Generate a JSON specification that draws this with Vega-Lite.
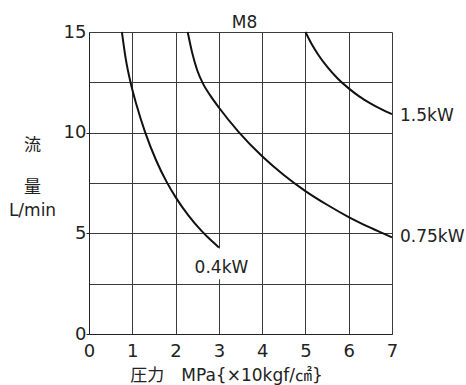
{
  "$schema": "https://vega.github.io/schema/vega-lite/v6.json",
  "width": 303,
  "height": 302,
  "autosize": "none",
  "padding": {"left": 89, "top": 32, "right": 74, "bottom": 51},
  "background": "white",
  "config": {
    "view": {"stroke": null},
    "font": "DejaVu Sans, Noto Sans CJK JP, sans-serif"
  },
  "title": {
    "text": "M8",
    "fontSize": 17,
    "fontWeight": "normal",
    "color": "#222",
    "anchor": "middle",
    "baseline": "bottom",
    "offset": 4,
    "dx": 4,
    "dy": 30
  },
  "resolve": {"axis": {"y": "independent"}},
  "datasets": {
    "curves": [
      {"series": "0.4kW", "p": 0.76, "q": 15},
      {"series": "0.4kW", "p": 0.85, "q": 13.65},
      {"series": "0.4kW", "p": 0.97, "q": 12.4},
      {"series": "0.4kW", "p": 1.1, "q": 11.36},
      {"series": "0.4kW", "p": 1.3, "q": 10.0},
      {"series": "0.4kW", "p": 1.55, "q": 8.63},
      {"series": "0.4kW", "p": 1.8, "q": 7.53},
      {"series": "0.4kW", "p": 2.0, "q": 6.8},
      {"series": "0.4kW", "p": 2.3, "q": 5.88},
      {"series": "0.4kW", "p": 2.6, "q": 5.12},
      {"series": "0.4kW", "p": 2.8, "q": 4.69},
      {"series": "0.4kW", "p": 3.0, "q": 4.3},
      {"series": "0.75kW", "p": 2.28, "q": 15},
      {"series": "0.75kW", "p": 2.38, "q": 14.0},
      {"series": "0.75kW", "p": 2.5, "q": 13.1},
      {"series": "0.75kW", "p": 2.63, "q": 12.45},
      {"series": "0.75kW", "p": 2.8, "q": 11.85},
      {"series": "0.75kW", "p": 3.0, "q": 11.25},
      {"series": "0.75kW", "p": 3.46, "q": 10.03},
      {"series": "0.75kW", "p": 4.0, "q": 8.83},
      {"series": "0.75kW", "p": 4.5, "q": 7.9},
      {"series": "0.75kW", "p": 5.0, "q": 7.1},
      {"series": "0.75kW", "p": 5.5, "q": 6.42},
      {"series": "0.75kW", "p": 6.0, "q": 5.81},
      {"series": "0.75kW", "p": 6.5, "q": 5.28},
      {"series": "0.75kW", "p": 7.0, "q": 4.8},
      {"series": "1.5kW", "p": 5.0, "q": 15},
      {"series": "1.5kW", "p": 5.15, "q": 14.38},
      {"series": "1.5kW", "p": 5.3, "q": 13.86},
      {"series": "1.5kW", "p": 5.5, "q": 13.28},
      {"series": "1.5kW", "p": 5.75, "q": 12.68},
      {"series": "1.5kW", "p": 6.0, "q": 12.2},
      {"series": "1.5kW", "p": 6.25, "q": 11.79},
      {"series": "1.5kW", "p": 6.5, "q": 11.46},
      {"series": "1.5kW", "p": 6.75, "q": 11.17},
      {"series": "1.5kW", "p": 7.0, "q": 10.92}
    ],
    "endLabels": [
      {"label": "1.5kW", "p": 7, "q": 10.85},
      {"label": "0.75kW", "p": 7, "q": 4.8}
    ],
    "innerLabel": [
      {"label": "0.4kW", "p": 3.06, "q": 3.3}
    ],
    "labelBox": [
      {"p1": 2.42, "p2": 3.75, "q1": 2.72, "q2": 4.25}
    ]
  },
  "layer": [
    {
      "data": {"name": "curves"},
      "mark": {"type": "line", "interpolate": "monotone", "color": "#111", "strokeWidth": 2},
      "encoding": {
        "x": {
          "field": "p",
          "type": "quantitative",
          "scale": {"domain": [0, 7], "nice": false, "zero": false},
          "axis": {
            "values": [0, 1, 2, 3, 4, 5, 6, 7],
            "grid": true,
            "gridColor": "#3a3a3a",
            "gridOpacity": 1,
            "gridWidth": 1,
            "domainColor": "#222",
            "domainWidth": 1,
            "ticks": false,
            "labelFontSize": 18,
            "labelColor": "#222",
            "labelPadding": 8,
            "labelFlush": false,
            "title": "圧力　MPa{×10kgf/㎠}",
            "titleFontSize": 17,
            "titleFontWeight": "normal",
            "titleColor": "#222",
            "titleAlign": "center",
            "titleBaseline": "alphabetic",
            "titleX": 137,
            "titleY": 46
          }
        },
        "y": {
          "field": "q",
          "type": "quantitative",
          "scale": {"domain": [0, 15], "nice": false, "zero": false},
          "axis": {
            "orient": "left",
            "values": [0, 2.5, 5, 7.5, 10, 12.5, 15],
            "labelExpr": "datum.value % 5 === 0 ? datum.label : ''",
            "grid": true,
            "gridColor": "#3a3a3a",
            "gridOpacity": 1,
            "gridWidth": 1,
            "domainColor": "#222",
            "domainWidth": 1,
            "ticks": true,
            "tickSize": 3,
            "tickColor": "#222",
            "tickOpacity": {"condition": {"test": "datum.value % 5 === 0 && datum.value < 15", "value": 1}, "value": 0},
            "labelFontSize": 18,
            "labelColor": "#222",
            "labelPadding": 0,
            "labelFlush": false,
            "title": "流",
            "titleFontSize": 17,
            "titleFontWeight": "normal",
            "titleColor": "#222",
            "titleAngle": 0,
            "titleAlign": "center",
            "titleBaseline": "alphabetic",
            "titleX": -57,
            "titleY": 118
          }
        },
        "detail": {"field": "series", "type": "nominal"}
      }
    },
    {
      "data": {"name": "labelBox"},
      "mark": {"type": "rect", "fill": "white", "stroke": null},
      "encoding": {
        "x": {"field": "p1", "type": "quantitative"},
        "x2": {"field": "p2"},
        "y": {
          "field": "q1",
          "type": "quantitative",
          "axis": {
            "orient": "left",
            "domain": false,
            "labels": false,
            "ticks": false,
            "grid": false,
            "title": ["量", "L/min"],
            "titleFontSize": 17,
            "titleFontWeight": "normal",
            "titleColor": "#222",
            "titleAngle": 0,
            "titleAlign": "center",
            "titleBaseline": "alphabetic",
            "titleLineHeight": 23,
            "titleX": -57,
            "titleY": 160
          }
        },
        "y2": {"field": "q2"}
      }
    },
    {
      "data": {"name": "endLabels"},
      "mark": {"type": "text", "align": "left", "baseline": "middle", "dx": 8, "fontSize": 17, "color": "#222"},
      "encoding": {
        "x": {"field": "p", "type": "quantitative"},
        "y": {"field": "q", "type": "quantitative", "axis": null},
        "text": {"field": "label", "type": "nominal"}
      }
    },
    {
      "data": {"name": "innerLabel"},
      "mark": {"type": "text", "align": "center", "baseline": "middle", "fontSize": 17, "color": "#222"},
      "encoding": {
        "x": {"field": "p", "type": "quantitative"},
        "y": {"field": "q", "type": "quantitative", "axis": null},
        "text": {"field": "label", "type": "nominal"}
      }
    }
  ]
}
